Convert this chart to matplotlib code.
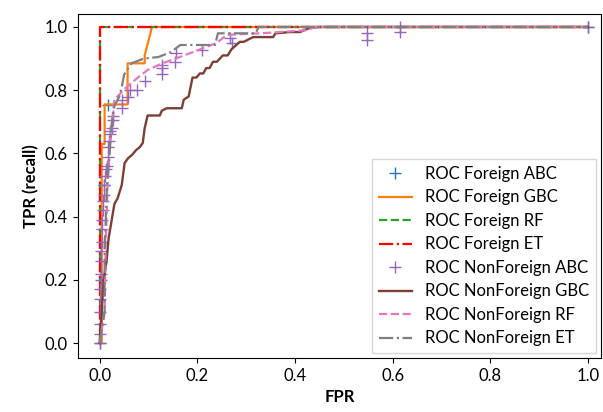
import matplotlib
matplotlib.use("Agg")
import matplotlib.pyplot as plt

plt.rcParams["font.family"] = ["Lato", "DejaVu Sans"]

# ROC curves
f_abc_fpr = [0.0, 0.009, 0.016, 1.0]
f_abc_tpr = [0.0, 0.5, 0.753, 1.0]

f_gbc_fpr = [0.0, 0.004, 0.004, 0.01, 0.01, 0.057, 0.057, 0.092, 0.092, 0.107, 1.0]
f_gbc_tpr = [0.0, 0.0, 0.63, 0.63, 0.755, 0.755, 0.885, 0.885, 0.91, 1.0, 1.0]

f_rf_fpr = [0.0, 0.0, 0.0, 1.0]
f_rf_tpr = [0.0, 0.5, 1.0, 1.0]

f_et_fpr = [0.0, 0.0, 0.0, 1.0]
f_et_tpr = [0.0, 0.48, 1.0, 1.0]

nf_abc_fpr = [0.0, 0.0, 0.0, 0.0, 0.0, 0.0, 0.003, 0.003, 0.003, 0.003, 0.004, 0.004,
              0.005, 0.006, 0.007, 0.008, 0.009, 0.01, 0.012, 0.014, 0.016, 0.016,
              0.018, 0.02, 0.022, 0.025, 0.027, 0.027, 0.045, 0.045, 0.057, 0.061,
              0.076, 0.092, 0.127, 0.127, 0.127, 0.154, 0.157, 0.21, 0.266, 0.27,
              0.547, 0.547, 0.615, 0.615, 1.0]
nf_abc_tpr = [0.0, 0.03, 0.06, 0.1, 0.14, 0.17, 0.2, 0.22, 0.26, 0.29, 0.32, 0.36,
              0.39, 0.42, 0.45, 0.47, 0.5, 0.53, 0.55, 0.56, 0.59, 0.62,
              0.64, 0.66, 0.67, 0.68, 0.705, 0.72, 0.743, 0.77, 0.78, 0.80,
              0.80, 0.83, 0.85, 0.87, 0.88, 0.89, 0.917, 0.927, 0.965, 0.95,
              0.98, 0.96, 1.0, 0.984, 1.0]

nf_gbc_fpr = [0.0, 0.004, 0.008, 0.014, 0.018, 0.03, 0.037, 0.045, 0.051, 0.058, 0.066,
              0.074, 0.082, 0.088, 0.092, 0.098, 0.123, 0.127, 0.137, 0.168, 0.172,
              0.182, 0.186, 0.19, 0.198, 0.205, 0.212, 0.218, 0.225, 0.232, 0.24,
              0.252, 0.262, 0.27, 0.287, 0.295, 0.314, 0.355, 0.36, 0.39, 0.41,
              0.43, 0.45, 1.0]
nf_gbc_tpr = [0.0, 0.1, 0.2, 0.26, 0.33, 0.44, 0.46, 0.5, 0.57, 0.585, 0.595,
              0.61, 0.62, 0.633, 0.68, 0.72, 0.72, 0.735, 0.743, 0.743, 0.77,
              0.78, 0.81, 0.84, 0.84, 0.853, 0.853, 0.87, 0.87, 0.89, 0.89,
              0.91, 0.91, 0.93, 0.953, 0.953, 0.968, 0.968, 0.98, 0.984, 0.984,
              0.997, 1.0, 1.0]

nf_rf_fpr = [0.0, 0.01, 0.012, 0.016, 0.02, 0.025, 0.03, 0.055, 0.078, 0.098, 0.13,
             0.164, 0.19, 0.24, 0.26, 0.33, 0.426, 0.44, 1.0]
nf_rf_tpr = [0.0, 0.1, 0.3, 0.5, 0.6, 0.7, 0.77, 0.81, 0.84, 0.864, 0.886,
             0.905, 0.92, 0.95, 0.975, 0.98, 0.99, 1.0, 1.0]

nf_et_fpr = [0.0, 0.01, 0.01, 0.015, 0.02, 0.025, 0.03, 0.04, 0.045, 0.05, 0.065, 0.09,
             0.12, 0.145, 0.165, 0.236, 0.242, 0.32, 0.325, 1.0]
nf_et_tpr = [0.0, 0.1, 0.3, 0.5, 0.6, 0.7, 0.75, 0.78, 0.81, 0.85, 0.885, 0.90,
             0.905, 0.92, 0.943, 0.943, 0.98, 0.98, 1.0, 1.0]

fig = plt.figure(figsize=(6.03, 4.12), dpi=100)
ax = fig.add_axes([0.129, 0.131, 0.868, 0.835])

ax.plot(f_abc_fpr, f_abc_tpr, "+", color="tab:blue", markersize=9, label="ROC Foreign ABC")
ax.plot(f_gbc_fpr, f_gbc_tpr, "-", color="tab:orange", lw=1.6, label="ROC Foreign GBC")
ax.plot(f_rf_fpr, f_rf_tpr, "--", color="tab:green", lw=1.6, label="ROC Foreign RF")
ax.plot(f_et_fpr, f_et_tpr, "-.", color="red", lw=1.6, label="ROC Foreign ET")
ax.plot(nf_abc_fpr, nf_abc_tpr, "+", color="tab:purple", markersize=9, label="ROC NonForeign ABC")
ax.plot(nf_gbc_fpr, nf_gbc_tpr, "-", color="#7a4035", lw=1.7, label="ROC NonForeign GBC")
ax.plot(nf_rf_fpr, nf_rf_tpr, "--", color="tab:pink", lw=1.6, label="ROC NonForeign RF")
ax.plot(nf_et_fpr, nf_et_tpr, "-.", color="tab:gray", lw=1.6, label="ROC NonForeign ET")

ax.set_xlim(-0.045, 1.027)
ax.set_ylim(-0.047, 1.041)
ax.set_xticks([0.0, 0.2, 0.4, 0.6, 0.8, 1.0])
ax.set_yticks([0.0, 0.2, 0.4, 0.6, 0.8, 1.0])
ax.tick_params(labelsize=12)
ax.set_xlabel("FPR", fontsize=12, fontweight="bold")
ax.set_ylabel("TPR (recall)", fontsize=12, fontweight="bold")
ax.legend(loc="lower right", fontsize=12, fancybox=False, borderaxespad=0.3,
          handlelength=2.0, labelspacing=0.45)

fig.savefig("out.png", dpi=100)
